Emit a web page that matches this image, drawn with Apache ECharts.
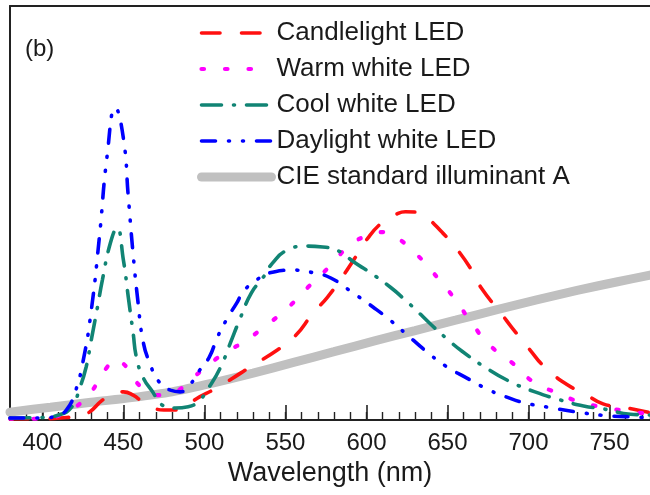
<!DOCTYPE html>
<html>
<head>
<meta charset="utf-8">
<script src="https://cdn.jsdelivr.net/npm/echarts@6/dist/echarts.min.js"></script>
<style>
  html, body { margin: 0; padding: 0; background: #fff; }
  #chart { width: 650px; height: 495px; }
</style>
</head>
<body>
<div id="chart"></div>
<script>
// Relative spectral power distributions, wavelength in nm
const candleWl  = [380,400,415,423,429,437,444,450,456,462,468,475,481,489,497,505,515,529,545,556,567,576,585,592,601,610,618,624,631,635,647,656,666,671,683,690,701,710,724,734,746,758,775];
const candleVal = [0.3,0.3,0.6,1,1.9,4.8,6.4,6.8,6,4.3,3,2.4,2.4,3.6,5.6,7.2,9.5,13,16.9,20.3,25.8,29.7,34.5,38.6,44,47.8,49.6,50.3,50.2,49.7,45.2,41.2,35.5,31.8,25.8,22.2,16.9,12.8,8.5,6.5,3.9,3.1,1.8];

const warmWl  = [380,395,405,413,420,428,434,440,445,450,454,460,466,473,480,488,495,502,508,516,524,537,552,564,578,590,602,611,619,632,644,655,665,676,690,703,718,732,746,765,775];
const warmVal = [0.3,0.3,0.6,1.5,3,5.8,9,12.8,14.6,13.6,11.4,8.3,6.6,6,6.5,8.3,10.9,13,15,17,18.8,22.5,27.3,32.1,37.4,42.3,44.7,45.4,44,39.6,34.3,29,23.4,18.1,13.8,9.2,6.5,4.3,3.1,1.9,1.5];

const coolWl  = [380,400,410,418,423,427,430,434,437,442,446,450,453,456,458,462,468,474,482,490,497,503,510,516,522,529,536,542,551,563,573,584,592,602,615,623,630,640,650,659,673,689,704,720,734,746,763,775];
const coolVal = [0.5,0.6,1.2,3.1,7.7,12.8,19,27.3,33.8,42.8,46.4,38.6,29.7,21,15.2,10.4,6.8,3.6,2.9,3.2,4.8,8,12.8,18.6,24.5,30.7,34.3,37.9,41,42,41.8,40.6,38.2,35.7,32,29.3,26.8,23,19.5,16.6,12.8,9.2,6.8,4.8,3.4,2.7,1.4,1.2];

const dayWl  = [380,400,410,415,420,425,430,435,440,445,450,453,456,459,462,466,472,479,485,491,497,503,508,514,520,524,532,542,555,568,578,591,604,615,625,639,649,662,676,686,698,712,734,750,767,775];
const dayVal = [0.5,0.5,1.2,2.5,6.5,14,26,43.5,64,75.4,68,54,40,28.5,19.3,14,9.2,7.2,6.8,8.5,12,15.2,20,24.5,28.3,31,33.8,35.7,36.2,35.5,34.3,30.9,27.3,24,20.6,15.9,13,10.1,7.2,5.6,4.1,3.1,1.7,1,0.7,0.5];

const cieWl  = [380,405,430,455,480,505,530,555,580,605,630,655,680,705,730,755,775];
const cieVal = [1.9,3.1,4.3,5.4,6.8,8.9,11.3,13.9,16.5,19.1,21.6,24.1,26.6,29,31.3,33.4,35];

const majorTicks = [400,450,500,550,600,650,700,750];
const seriesNames = ['Candlelight LED','Warm white LED','Cool white LED','Daylight white LED','CIE standard illuminant A'];

const FONT = '"Liberation Sans", Arial, Helvetica, sans-serif';
const pairs = (xs, ys) => xs.map((x, i) => [x, ys[i]]);

const styles = [
  { color: '#ff1010', dash: [18.5, 21.5], width: 3.6 },
  { color: '#ff00ff', dash: [2.5, 21], width: 4.2 },
  { color: '#118474', dash: [20, 12, 1, 12], width: 3.6 },
  { color: '#0000ff', dash: [14, 13, 1, 13, 1, 13], width: 3.6 },
  { color: '#c0c0c0', dash: 'solid', width: 9 }
];

function ledSeries(i, wl, val) {
  const s = styles[i];
  return {
    name: seriesNames[i],
    type: 'line',
    data: pairs(wl, val),
    smooth: 0.5,
    symbol: 'none',
    showSymbol: false,
    z: 3,
    itemStyle: { color: s.color },
    lineStyle: { color: s.color, width: s.width, type: s.dash, cap: 'round' }
  };
}

const chart = echarts.init(document.getElementById('chart'), null, { renderer: 'canvas' });

chart.setOption({
  animation: false,
  backgroundColor: '#ffffff',
  textStyle: { fontFamily: FONT },
  grid: { left: 10, right: 0, top: 6, bottom: 75, containLabel: false },
  legend: {
    orient: 'vertical',
    left: 197,
    top: 20,
    padding: 0,
    itemWidth: 70,
    itemHeight: 14,
    itemGap: 10,
    data: seriesNames.map((n, i) => ({
      name: n,
      itemStyle: { opacity: 0, borderWidth: 0 },
      lineStyle: { color: styles[i].color, width: styles[i].width, type: styles[i].dash, cap: 'round' }
    })),
    textStyle: { fontFamily: FONT, fontSize: 26, color: '#1a1a1a', lineHeight: 26 }
  },
  xAxis: [
    {
      type: 'value', min: 380, max: 775, position: 'bottom',
      name: 'Wavelength (nm)', nameLocation: 'middle', nameGap: 36,
      nameTextStyle: { fontFamily: FONT, fontSize: 27, color: '#1a1a1a' },
      axisLine: { show: true, lineStyle: { color: '#222', width: 2 } },
      axisTick: { show: true, inside: true, length: 15, customValues: majorTicks, lineStyle: { color: '#222', width: 1.6 } },
      axisLabel: { show: true, customValues: majorTicks, margin: 11, fontFamily: FONT, fontSize: 24, color: '#1a1a1a' },
      splitLine: { show: false }
    },
    {
      type: 'value', min: 380, max: 775, interval: 10, position: 'bottom',
      axisLine: { show: false },
      axisTick: { show: true, inside: true, length: 8, lineStyle: { color: '#222', width: 1.4 } },
      axisLabel: { show: false },
      splitLine: { show: false }
    },
    {
      type: 'value', min: 380, max: 775, position: 'top',
      axisLine: { show: true, lineStyle: { color: '#222', width: 2 } },
      axisTick: { show: false },
      axisLabel: { show: false },
      splitLine: { show: false }
    }
  ],
  yAxis: {
    type: 'value', min: 0, max: 100,
    axisLine: { show: true, lineStyle: { color: '#222', width: 2 } },
    axisTick: { show: false },
    axisLabel: { show: false },
    splitLine: { show: false }
  },
  graphic: [
    { type: 'text', left: 25, top: 37, style: { text: '(b)', font: '24px ' + FONT, fill: '#1a1a1a' } }
  ],
  series: [
    {
      name: seriesNames[4],
      type: 'line',
      data: pairs(cieWl, cieVal),
      smooth: 0.3,
      symbol: 'none',
      showSymbol: false,
      z: 1,
      itemStyle: { color: styles[4].color },
      lineStyle: { color: styles[4].color, width: styles[4].width, cap: 'round' }
    },
    ledSeries(0, candleWl, candleVal),
    ledSeries(1, warmWl, warmVal),
    ledSeries(2, coolWl, coolVal),
    ledSeries(3, dayWl, dayVal)
  ]
});
</script>
</body>
</html>
